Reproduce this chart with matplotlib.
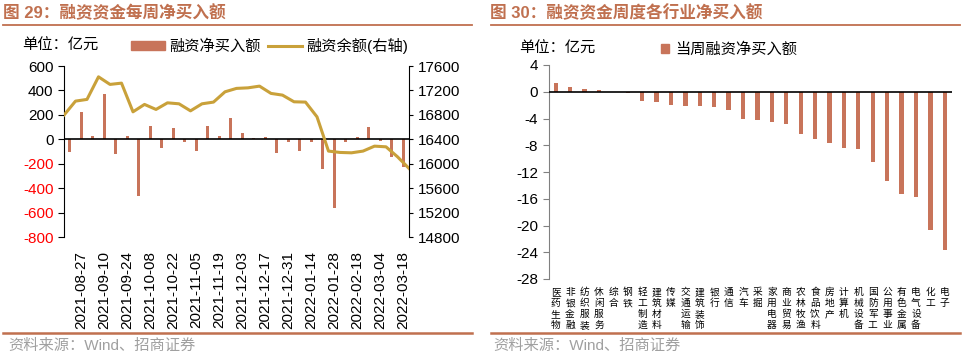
import numpy as np
import matplotlib
matplotlib.use('Agg')
import matplotlib.pyplot as plt
from matplotlib.lines import Line2D
from matplotlib.patches import Patch

plt.rcParams['font.family'] = ['Liberation Sans', 'Noto Sans CJK SC']
plt.rcParams['axes.unicode_minus'] = False

# 图29 数据
dates = ['2021-08-20', '2021-08-27', '2021-09-03', '2021-09-10', '2021-09-17', '2021-09-24',
         '2021-09-30', '2021-10-08', '2021-10-15', '2021-10-22', '2021-10-29', '2021-11-05',
         '2021-11-12', '2021-11-19', '2021-11-26', '2021-12-03', '2021-12-10', '2021-12-17',
         '2021-12-24', '2021-12-31', '2022-01-07', '2022-01-14', '2022-01-21', '2022-01-28',
         '2022-02-11', '2022-02-18', '2022-02-25', '2022-03-04', '2022-03-11', '2022-03-18']
net_buy = [-100, 220, 27, 373, -120, 25, -465, 109, -68, 93, -19, -95, 106, 25, 174,
           52, 8, 19, -112, -25, -92, -19, -242, -563, -22, 19, 98, -14, -147, -229]
balance = [16797, 17026, 17054, 17423, 17299, 17320, 16851, 16972, 16890, 16998, 16982,
           16867, 16982, 17010, 17178, 17234, 17243, 17271, 17152, 17124, 17015, 17010,
           16769, 16209, 16187, 16181, 16209, 16290, 16279, 16116, 15926]

# 图30 数据
industries = ['医药生物', '非银金融', '纺织服装', '休闲服务', '综合', '钢铁', '轻工制造',
              '建筑材料', '传媒', '交通运输', '建筑装饰', '银行', '通信', '汽车', '采掘',
              '家用电器', '商业贸易', '农林牧渔', '食品饮料', '房地产', '计算机', '机械设备',
              '国防军工', '公用事业', '有色金属', '电气设备', '化工', '电子']
ind_buy = [1.3, 0.7, 0.35, 0.25, -0.05, -0.25, -1.45, -1.6, -2.05, -2.1, -2.15, -2.25,
           -2.7, -4.13, -4.28, -4.58, -4.78, -6.33, -7.07, -7.62, -8.47, -8.57, -10.51,
           -13.35, -15.29, -15.74, -20.72, -23.66]

brown = '#C8745A'
gold = '#C9A13A'
title_c = '#C0704F'
W, H = 966, 355

fig = plt.figure(figsize=(9.66, 3.55), dpi=100)

def fx(px):
    return px / W

def fy(py):
    return 1 - py / H

# 标题、分隔线、来源
fig.text(fx(3), fy(13), '图 29：融资资金每周净买入额', color=title_c, fontsize=12,
         fontweight='bold', va='center')
fig.text(fx(490), fy(13), '图 30：融资资金周度各行业净买入额', color=title_c, fontsize=12,
         fontweight='bold', va='center')
for x0, x1 in [(3, 472), (491, 960)]:
    fig.add_artist(Line2D([fx(x0), fx(x1)], [fy(25), fy(25)], color=title_c, lw=1.3))
    fig.add_artist(Line2D([fx(x0), fx(x1)], [fy(333), fy(333)], color=title_c, lw=1.8))
fig.text(fx(8), fy(346), '资料来源：Wind、招商证券', color='#A0A0A0', fontsize=11, va='center')
fig.text(fx(493), fy(346), '资料来源：Wind、招商证券', color='#A0A0A0', fontsize=11, va='center')

# ---------- 图29 ----------
ax = fig.add_axes([fx(64), fy(237.3), fx(409 - 64), (237.3 - 66) / H])
x = np.arange(len(dates))
ax.bar(x, net_buy, width=0.3, color=brown, zorder=2)
ax.axhline(0, color='black', lw=1.2, zorder=3)
ax.set_xlim(-0.5, len(dates) - 0.5)
ax.set_ylim(-800, 600)
ax.set_yticks(np.arange(-800, 601, 200))
for t, v in zip(ax.get_yticklabels(), np.arange(-800, 601, 200)):
    t.set_color('red' if v < 0 else 'black')
ax.set_xticks(x[1::2])
ax.set_xticklabels(dates[1::2], rotation=90, fontsize=11)
ax.tick_params(axis='x', length=0, pad=10)
ax.tick_params(axis='y', labelsize=11, length=4, direction='out')
for s in ['top', 'bottom', 'right']:
    ax.spines[s].set_visible(False)

ax2 = ax.twinx()
ax2.plot(np.arange(len(balance)) - 0.5, balance, color=gold, lw=2.2, zorder=4)
ax2.set_ylim(14800, 17600)
ax2.set_yticks(np.arange(14800, 17601, 400))
ax2.tick_params(axis='y', labelsize=11, length=3, direction='out')
for s in ['top', 'bottom', 'left']:
    ax2.spines[s].set_visible(False)

fig.text(fx(22), fy(46), '单位：亿元', fontsize=11, va='center')
handles = [Patch(color=brown), Line2D([], [], color=gold, lw=2.2)]
fig.legend(handles, ['融资净买入额', '融资余额(右轴)'], loc='center left',
           bbox_to_anchor=(fx(131), fy(46)), ncol=2, frameon=False, fontsize=11,
           handlelength=2.2, handleheight=0.45, handletextpad=0.3, columnspacing=0.5,
           borderpad=0, borderaxespad=0)

# ---------- 图30 ----------
bx = fig.add_axes([fx(548.5), fy(279), fx(952 - 548.5), (279 - 65) / H])
xi = np.arange(len(industries))
bx.bar(xi, ind_buy, width=0.3, color=brown, zorder=2)
bx.axhline(0, color='black', lw=1.2, zorder=3)
bx.set_xlim(-0.5, len(industries) - 0.5)
bx.set_ylim(-28, 4)
bx.set_yticks(np.arange(-28, 5, 4))
bx.set_xticks(xi)
bx.set_xticklabels(['\n'.join(n) for n in industries], fontsize=7, linespacing=1.1,
                   va='top')
bx.tick_params(axis='x', length=0, pad=6)
bx.tick_params(axis='y', labelsize=11, length=4, direction='out', color='#808080')
bx.spines['left'].set_color('#808080')
for s in ['top', 'bottom', 'right']:
    bx.spines[s].set_visible(False)

fig.text(fx(519), fy(49), '单位：亿元', fontsize=11, va='center')
fig.legend([Patch(color=brown)], ['当周融资净买入额'], loc='center left',
           bbox_to_anchor=(fx(661), fy(50)), frameon=False, fontsize=11,
           handlelength=0.55, handleheight=0.55, handletextpad=0.4,
           borderpad=0, borderaxespad=0)

fig.savefig('out.png', dpi=100)
